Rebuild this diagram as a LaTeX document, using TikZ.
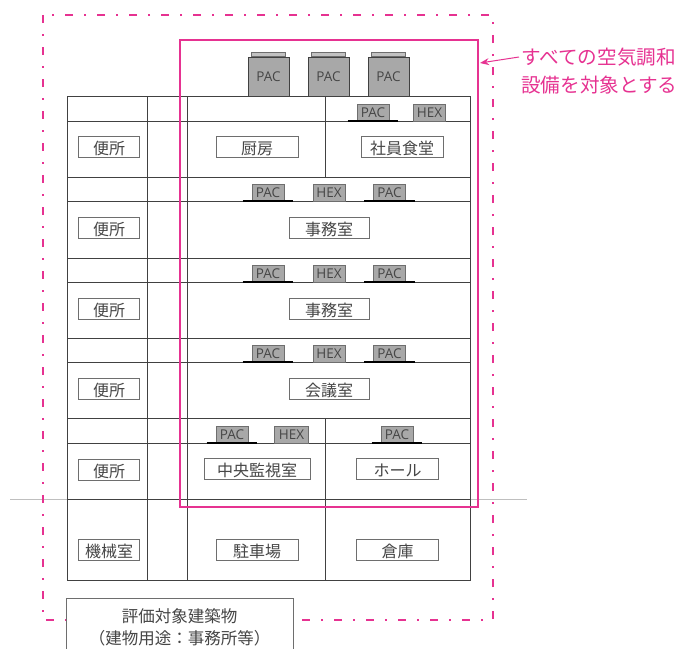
\documentclass[tikz,border=0pt]{standalone}
\usepackage{fontspec}
\usepackage{xcolor}
\usepackage{tikz}
\usetikzlibrary{arrows.meta,positioning}
\setmainfont{Noto Sans CJK JP}
\newfontfamily\unitfont{Open Sans}
\definecolor{bdgline}{RGB}{65,65,65}
\definecolor{bdgtext}{RGB}{70,70,70}
\definecolor{unitgray}{RGB}{168,168,168}
\definecolor{unitedge}{RGB}{110,110,110}
\definecolor{scopepink}{RGB}{230,50,145}
\tikzstyle{wall} = [line width=0.8pt, color=bdgline]
\tikzstyle{room} = [rectangle, draw=unitedge, fill=white, line width=0.9pt, minimum height=21pt, inner sep=0pt, text height=15pt, text depth=0pt, text=bdgtext, font=\fontsize{16}{16}\selectfont]
\tikzstyle{unit} = [rectangle, draw=unitedge, fill=unitgray, line width=0.9pt, minimum width=32pt, minimum height=17pt, inner sep=0pt, text=bdgtext, font=\unitfont\fontsize{13.5}{13.5}\selectfont]
\tikzstyle{bigunit} = [unit, draw=bdgline, minimum width=41pt, minimum height=39pt]
\tikzstyle{roofcap} = [draw=unitedge, fill=unitgray!70, line width=0.8pt]
\tikzstyle{unitbase} = [line width=2pt, color=black]
\tikzstyle{scopetext} = [anchor=west, inner sep=0pt, text=scopepink, font=\fontsize{19.6}{19.6}\selectfont]

\begin{document}
\begin{tikzpicture}[x=1pt, y=-1pt]
\clip (0,0) rectangle (679,648);
\useasboundingbox (0,0) rectangle (679,648);

% Ground line and outer boundary
\draw[color=black!25, line width=0.9pt] (10,499) -- (527,499);
\draw[scopepink, line width=1.2pt, dash pattern=on 8pt off 11pt on 2pt off 11pt] (43,15) rectangle (493,620);

% Building
\draw[wall] (67,96) rectangle (470,580);
\foreach \yy in {121,177,201,258,282,338,362,418,443,499} {
  \draw[wall] (67,\yy) -- (470,\yy);
}
\draw[wall] (147,96) -- (147,580);
\draw[wall] (187,96) -- (187,580);
\draw[wall] (325,96) -- (325,177);
\draw[wall] (325,418) -- (325,580);

% Roof units
\node (roofa) [bigunit] at (268.5,76.5) {PAC};
\node (roofb) [bigunit, right of=roofa, node distance=60pt] {PAC};
\node (roofc) [bigunit, right of=roofb, node distance=60pt] {PAC};
\draw[roofcap] ([xshift=4pt]roofa.north west) rectangle ([xshift=-4pt,yshift=4pt]roofa.north east);
\draw[roofcap] ([xshift=4pt]roofb.north west) rectangle ([xshift=-4pt,yshift=4pt]roofb.north east);
\draw[roofcap] ([xshift=4pt]roofc.north west) rectangle ([xshift=-4pt,yshift=4pt]roofc.north east);

% Ceiling units
\node (pacf) [unit] at (373,112.5) {PAC};
\node (hexf) [unit] at (429.5,112.5) {HEX};
\node (paco) [unit] at (268,192.5) {PAC};
\node (hexo) [unit, right of=paco, node distance=61pt] {HEX};
\node (paco2) [unit, right of=hexo, node distance=60.5pt] {PAC};
\node (pacn) [unit, below of=paco, node distance=81pt] {PAC};
\node (hexn) [unit, below of=hexo, node distance=81pt] {HEX};
\node (pacn2) [unit, below of=paco2, node distance=81pt] {PAC};
\node (pacm) [unit, below of=pacn, node distance=80pt] {PAC};
\node (hexm) [unit, below of=hexn, node distance=80pt] {HEX};
\node (pacm2) [unit, below of=pacn2, node distance=80pt] {PAC};
\node (pacc) [unit] at (232,434.5) {PAC};
\node (hexc) [unit, minimum width=34pt] at (291.5,434.5) {HEX};
\node (pach) [unit] at (397,434.5) {PAC};

% Bases under the PACs
\draw[unitbase] ([xshift=-9pt]pacf.south west) -- ([xshift=9pt]pacf.south east);
\draw[unitbase] ([xshift=-9pt]paco.south west) -- ([xshift=9pt]paco.south east);
\draw[unitbase] ([xshift=-9pt]paco2.south west) -- ([xshift=9pt]paco2.south east);
\draw[unitbase] ([xshift=-9pt]pacn.south west) -- ([xshift=9pt]pacn.south east);
\draw[unitbase] ([xshift=-9pt]pacn2.south west) -- ([xshift=9pt]pacn2.south east);
\draw[unitbase] ([xshift=-9pt]pacm.south west) -- ([xshift=9pt]pacm.south east);
\draw[unitbase] ([xshift=-9pt]pacm2.south west) -- ([xshift=9pt]pacm2.south east);
\draw[unitbase] ([xshift=-9pt]pacc.south west) -- ([xshift=9pt]pacc.south east);
\draw[unitbase] ([xshift=-9pt]pach.south west) -- ([xshift=9pt]pach.south east);

% Toilets and machine room
\node (wca) [room, minimum width=61pt] at (109,147) {便所};
\node (wcb) [room, minimum width=61pt, below of=wca, node distance=81pt] {便所};
\node (wcc) [room, minimum width=61pt, below of=wcb, node distance=81pt] {便所};
\node (wcd) [room, minimum width=61pt, below of=wcc, node distance=80pt] {便所};
\node (wce) [room, minimum width=61pt, below of=wcd, node distance=80.5pt] {便所};
\node (mech) [room, minimum width=61pt, below of=wce, node distance=80.5pt] {機械室};

% Rooms
\node (kitchen) [room, minimum width=82pt] at (257,147) {厨房};
\node (canteen) [room, minimum width=82pt] at (402,147) {社員食堂};
\node (officea) [room, minimum width=80pt] at (329,228) {事務室};
\node (officeb) [room, minimum width=80pt, below of=officea, node distance=81pt] {事務室};
\node (meeting) [room, minimum width=80pt, below of=officeb, node distance=80pt] {会議室};
\node (control) [room, minimum width=106pt] at (257,469) {中央監視室};
\node (hall) [room, minimum width=82pt] at (397.5,469) {ホール};
\node (parking) [room, minimum width=82pt, below of=control, node distance=80.5pt] {駐車場};
\node (store) [room, minimum width=82pt, below of=hall, node distance=80.5pt] {倉庫};

% Air conditioning scope
\draw[scopepink, line width=1.5pt] (180,40) rectangle (478,507);
\coordinate (scopetip) at (480,63);
\node (scopea) [scopetext] at (521,57) {すべての空気調和};
\node (scopeb) [scopetext] at (521,85) {設備を対象とする};
\draw[scopepink, line width=1pt, -{Stealth[length=9pt,width=7pt]}] ([xshift=-2pt]scopea.west) -- (scopetip);

% Caption
\node (caption) [rectangle, draw=unitedge, fill=white, line width=0.9pt, minimum width=227pt, minimum height=58pt, inner sep=0pt, align=center, text=bdgtext, font=\fontsize{16.5}{22}\selectfont] at (179.5,627) {評価対象建築物\\（建物用途：事務所等）};
\end{tikzpicture}
\end{document}
